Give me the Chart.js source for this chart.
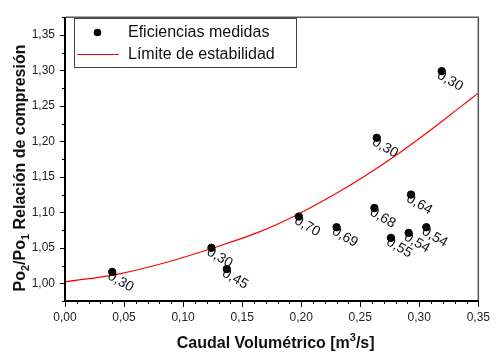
<!DOCTYPE html>
<html>
<head>
<meta charset="utf-8">
<script src="https://cdn.jsdelivr.net/npm/chart.js@4/dist/chart.umd.min.js"></script>
<style>
  body { margin: 0; background: #fff; }
</style>
</head>
<body>
<canvas id="myChart" width="499" height="354"></canvas>
<script>
// measured points: flow rate [m3/s], pressure ratio, efficiency label
var flowRates = [0.040, 0.124, 0.137, 0.198, 0.230, 0.262, 0.264, 0.276, 0.291, 0.293, 0.306, 0.319];
var pressureRatios = [1.016, 1.050, 1.020, 1.094, 1.079, 1.106, 1.205, 1.064, 1.071, 1.125, 1.079, 1.299];
var efficiencyLabels = ["0,30", "0,30", "0,45", "0,70", "0,69", "0,68", "0,30", "0,55", "0,54", "0,64", "0,54", "0,30"];

// stability limit curve
var limitX = [0, 0.045, 0.087, 0.124, 0.164, 0.197, 0.228, 0.253, 0.280, 0.308, 0.336, 0.350];
var limitY = [1.002, 1.013, 1.030, 1.049, 1.072, 1.097, 1.125, 1.150, 1.180, 1.214, 1.250, 1.268];

var seriesNames = ["Eficiencias medidas", "Límite de estabilidad"];

var FONT = "'Liberation Sans', Arial, sans-serif";

function comma(v) { return v.toFixed(2).replace(".", ","); }
function isMajorX(v) { return Math.round(v * 100) % 5 === 0; }
function isMajorY(v) { return Math.round(v * 1000) % 50 === 0; }

// draws text pieces with sub/superscripts centred on cx
function drawRich(ctx, parts, cx, baseline, size) {
    var total = 0;
    parts.forEach(function (p) {
        ctx.font = "bold " + (p.off ? size - 5 : size) + "px " + FONT;
        p.w = ctx.measureText(p.t).width;
        total += p.w;
    });
    var x = cx - total / 2;
    ctx.textAlign = "left";
    ctx.textBaseline = "alphabetic";
    parts.forEach(function (p) {
        ctx.font = "bold " + (p.off ? size - 5 : size) + "px " + FONT;
        ctx.fillText(p.t, x, baseline + (p.off || 0));
        x += p.w;
    });
}

var decorations = {
    id: "decorations",
    afterDatasetsDraw: function (chart) {
        var ctx = chart.ctx;
        var meta = chart.getDatasetMeta(0);
        ctx.save();
        ctx.fillStyle = "#111";
        ctx.font = "14px " + FONT;
        ctx.textAlign = "left";
        ctx.textBaseline = "top";
        meta.data.forEach(function (pt, i) {
            ctx.save();
            ctx.translate(pt.x, pt.y - 3);
            ctx.rotate(30 * Math.PI / 180);
            ctx.fillText(efficiencyLabels[i], 0, 0);
            ctx.restore();
        });
        ctx.restore();
    },
    afterDraw: function (chart) {
        var ctx = chart.ctx;
        var a = chart.chartArea;
        var xs = chart.scales.x, ys = chart.scales.y;
        ctx.save();

        // tick marks
        ctx.strokeStyle = "#000";
        ctx.lineWidth = 1;
        ctx.beginPath();
        xs.ticks.forEach(function (t) {
            var px = Math.round(xs.getPixelForValue(t.value)) + 0.5;
            ctx.moveTo(px, a.bottom);
            ctx.lineTo(px, a.bottom + (isMajorX(t.value) ? 6 : 3));
        });
        ys.ticks.forEach(function (t) {
            var py = Math.round(ys.getPixelForValue(t.value)) + 0.5;
            ctx.moveTo(a.left, py);
            ctx.lineTo(a.left - (isMajorY(t.value) ? 5 : 3), py);
        });
        ctx.stroke();

        // frame
        ctx.strokeStyle = "#555";
        ctx.lineWidth = 1.5;
        ctx.beginPath();
        ctx.moveTo(a.left, a.top);
        ctx.lineTo(a.right, a.top);
        ctx.lineTo(a.right, a.bottom);
        ctx.stroke();
        ctx.strokeStyle = "#000";
        ctx.lineWidth = 2;
        ctx.beginPath();
        ctx.moveTo(a.left, a.top);
        ctx.lineTo(a.left, a.bottom);
        ctx.lineTo(a.right, a.bottom);
        ctx.stroke();

        // axis titles
        ctx.fillStyle = "#111";
        drawRich(ctx, [
            { t: "Caudal Volumétrico [m" },
            { t: "3", off: -7 },
            { t: "/s]" }
        ], (a.left + a.right) / 2 + 4, 348, 16);

        ctx.save();
        ctx.translate(25, 168);
        ctx.rotate(-Math.PI / 2);
        drawRich(ctx, [
            { t: "Po" },
            { t: "2", off: 4 },
            { t: "/Po" },
            { t: "1", off: 4 },
            { t: " Relación de compresión" }
        ], 0, 0, 16);
        ctx.restore();

        // legend box
        ctx.strokeStyle = "#444";
        ctx.lineWidth = 1;
        ctx.strokeRect(74.5, 18.5, 222, 49);
        ctx.fillStyle = "#000";
        ctx.beginPath();
        ctx.arc(97.5, 32.5, 3.8, 0, Math.PI * 2);
        ctx.fill();
        ctx.strokeStyle = "#ff0000";
        ctx.lineWidth = 1.2;
        ctx.beginPath();
        ctx.moveTo(77, 54.5);
        ctx.lineTo(119, 54.5);
        ctx.stroke();
        ctx.fillStyle = "#111";
        ctx.font = "16px " + FONT;
        ctx.textAlign = "left";
        ctx.textBaseline = "middle";
        ctx.fillText(seriesNames[0], 128, 32.5);
        ctx.fillText(seriesNames[1], 128, 54.5);

        ctx.restore();
    }
};

var ctx = document.getElementById("myChart").getContext("2d");

var data = {
    datasets: [
        {
            label: seriesNames[0],
            data: flowRates.map(function (x, i) { return { x: x, y: pressureRatios[i] }; }),
            backgroundColor: "#000",
            borderColor: "#000",
            pointRadius: 3.7,
            showLine: false
        },
        {
            label: seriesNames[1],
            data: limitX.map(function (x, i) { return { x: x, y: limitY[i] }; }),
            borderColor: "#ff0000",
            borderWidth: 1.2,
            pointRadius: 0,
            showLine: true,
            fill: false,
            cubicInterpolationMode: "monotone"
        }
    ]
};

var options = {
    responsive: false,
    animation: false,
    layout: { padding: { top: 6, right: 12, left: 0, bottom: 0 } },
    plugins: {
        legend: { display: false },
        tooltip: { enabled: false }
    },
    scales: {
        x: {
            type: "linear",
            min: 0,
            max: 0.35,
            afterFit: function (s) { s.height = 53; },
            grid: { display: false, drawTicks: false },
            border: { display: false },
            ticks: {
                stepSize: 0.01,
                autoSkip: false,
                maxRotation: 0,
                padding: 9,
                color: "#222",
                font: { family: FONT, size: 12 },
                callback: function (v) { return isMajorX(v) ? comma(v) : ""; }
            }
        },
        y: {
            type: "linear",
            min: 0.975,
            max: 1.375,
            afterFit: function (s) { s.width = 65; },
            grid: { display: false, drawTicks: false },
            border: { display: false },
            ticks: {
                stepSize: 0.025,
                autoSkip: false,
                padding: 10,
                color: "#222",
                font: { family: FONT, size: 12 },
                callback: function (v) { return isMajorY(v) ? comma(v) : ""; }
            }
        }
    }
};

var chart = new Chart(ctx, {
    type: "scatter",
    data: data,
    options: options,
    plugins: [decorations]
});
</script>
</body>
</html>
